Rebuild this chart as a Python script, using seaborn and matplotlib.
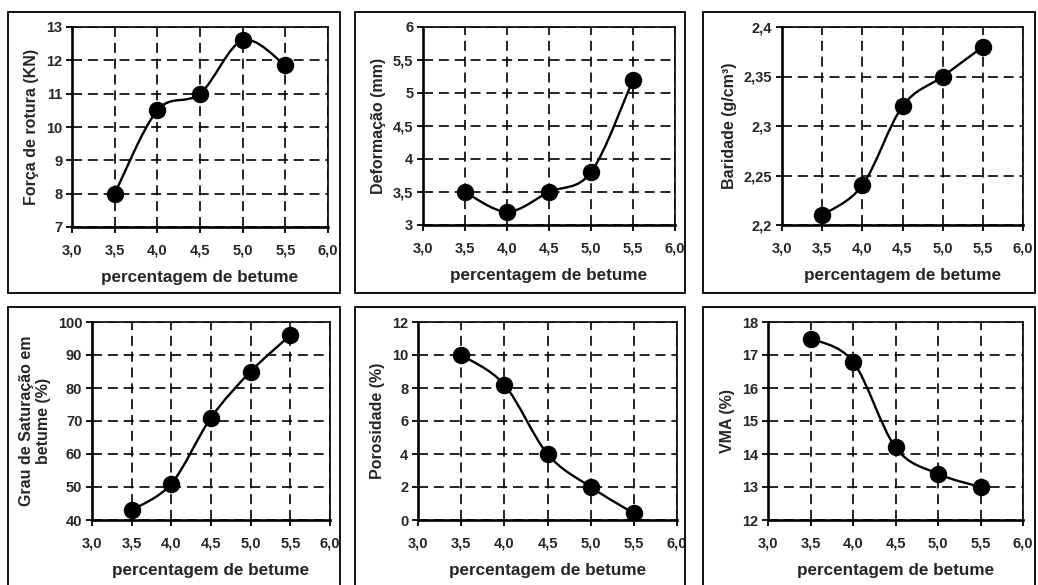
import matplotlib
matplotlib.use("Agg")
import matplotlib.pyplot as plt
import seaborn as sns
import numpy as np
import pandas as pd
from matplotlib.path import Path
from matplotlib.patches import PathPatch, Rectangle

# ---- data ----
betume = [3.5, 4.0, 4.5, 5.0, 5.5]
forca = [8.0, 10.5, 11.0, 12.6, 11.85]
deformacao = [3.5, 3.2, 3.5, 3.8, 5.2]
baridade = [2.21, 2.24, 2.32, 2.35, 2.38]
saturacao = [43, 51, 71, 85, 96]
porosidade = [10.0, 8.2, 4.0, 2.0, 0.4]
vma = [17.5, 16.8, 14.2, 13.4, 13.0]

x_ticks = [3.0, 3.5, 4.0, 4.5, 5.0, 5.5, 6.0]
x_ticklabels = ["3,0", "3,5", "4,0", "4,5", "5,0", "5,5", "6,0"]

y_ticks_forca = [7, 8, 9, 10, 11, 12, 13]
y_labels_forca = ["7", "8", "9", "10", "11", "12", "13"]
y_ticks_def = [3, 3.5, 4, 4.5, 5, 5.5, 6]
y_labels_def = ["3", "3,5", "4", "4,5", "5", "5,5", "6"]
y_ticks_bar = [2.2, 2.25, 2.3, 2.35, 2.4]
y_labels_bar = ["2,2", "2,25", "2,3", "2,35", "2,4"]
y_ticks_sat = [40, 50, 60, 70, 80, 90, 100]
y_labels_sat = ["40", "50", "60", "70", "80", "90", "100"]
y_ticks_por = [0, 2, 4, 6, 8, 10, 12]
y_labels_por = ["0", "2", "4", "6", "8", "10", "12"]
y_ticks_vma = [12, 13, 14, 15, 16, 17, 18]
y_labels_vma = ["12", "13", "14", "15", "16", "17", "18"]

xlabel = "percentagem de betume"

panels = [
    (forca, y_ticks_forca, y_labels_forca, "Força de rotura (KN)", (72, 27, 328, 227)),
    (deformacao, y_ticks_def, y_labels_def, "Deformação (mm)", (423, 27, 675, 225)),
    (baridade, y_ticks_bar, y_labels_bar, "Baridade (g/cm³)", (782, 27, 1023, 225)),
    (saturacao, y_ticks_sat, y_labels_sat, "Grau de Saturação em\nbetume (%)", (92, 322, 330, 520)),
    (porosidade, y_ticks_por, y_labels_por, "Porosidade (%)", (418, 322, 677, 520)),
    (vma, y_ticks_vma, y_labels_vma, "VMA (%)", (768, 322, 1023, 520)),
]

boxes = [(8, 12, 340, 293), (355, 12, 685, 293), (703, 12, 1035, 293),
         (8, 307, 340, 600), (355, 307, 685, 600), (703, 307, 1035, 600)]

W, H = 1038, 585
sns.set_theme(style="white")
plt.rcParams['font.family'] = ['Liberation Sans', 'DejaVu Sans']
fig = plt.figure(figsize=(W / 100, H / 100), dpi=100)
fig.patch.set_facecolor("white")

for (x0, y0, x1, y1) in boxes:
    fig.patches.append(Rectangle((x0 / W, 1 - y1 / H), (x1 - x0) / W, (y1 - y0) / H,
                                 transform=fig.transFigure, fill=False,
                                 edgecolor="black", linewidth=1.3, zorder=0))


def smooth_path(xs, ys):
    pts = np.column_stack([xs, ys]).astype(float)
    n = len(pts)
    verts = [tuple(pts[0])]
    codes = [Path.MOVETO]
    for i in range(n - 1):
        p0 = pts[i - 1] if i > 0 else pts[i]
        p1 = pts[i]
        p2 = pts[i + 1]
        p3 = pts[i + 2] if i + 2 < n else pts[i + 1]
        c1 = p1 + (p2 - p0) / 6.0
        c2 = p2 - (p3 - p1) / 6.0
        verts += [tuple(c1), tuple(c2), tuple(p2)]
        codes += [Path.CURVE4] * 3
    return Path(verts, codes)


for ys, yt, yl, ylab, (x0, y0, x1, y1) in panels:
    ax = fig.add_axes([x0 / W, 1 - y1 / H, (x1 - x0) / W, (y1 - y0) / H])
    df = pd.DataFrame({"x": betume, "y": ys})
    ax.add_patch(PathPatch(smooth_path(df["x"], df["y"]), fill=False,
                           edgecolor="black", linewidth=1.7, zorder=3))
    sns.scatterplot(data=df, x="x", y="y", ax=ax, s=135, color="black",
                    edgecolor="black", zorder=4, legend=False)
    ax.set_xlim(3.0, 6.0)
    ax.set_ylim(yt[0], yt[-1])
    ax.set_xticks(x_ticks)
    ax.set_xticklabels(x_ticklabels)
    ax.set_yticks(yt)
    ax.set_yticklabels(yl)
    ax.grid(True, color="black", linestyle=(0, (6, 3.5)), linewidth=1.2)
    ax.set_axisbelow(True)
    for s in ax.spines.values():
        s.set_color("black")
        s.set_linewidth(1.2)
    ax.spines["left"].set_linewidth(1.9)
    ax.spines["bottom"].set_linewidth(1.9)
    ax.tick_params(axis="both", which="both", direction="out", length=4, width=1.3,
                   color="black", labelsize=10.5, left=True, bottom=True)
    ax.tick_params(axis="x", pad=8)
    ax.tick_params(axis="y", pad=3)
    for lab in ax.get_xticklabels() + ax.get_yticklabels():
        lab.set_fontweight("bold")
    ax.set_xlabel(xlabel, fontsize=12.3, fontweight="bold", labelpad=9)
    ax.set_ylabel(ylab, fontsize=11.5, fontweight="bold", labelpad=5, linespacing=1.15)

fig.savefig("out.png", dpi=100, facecolor="white")
